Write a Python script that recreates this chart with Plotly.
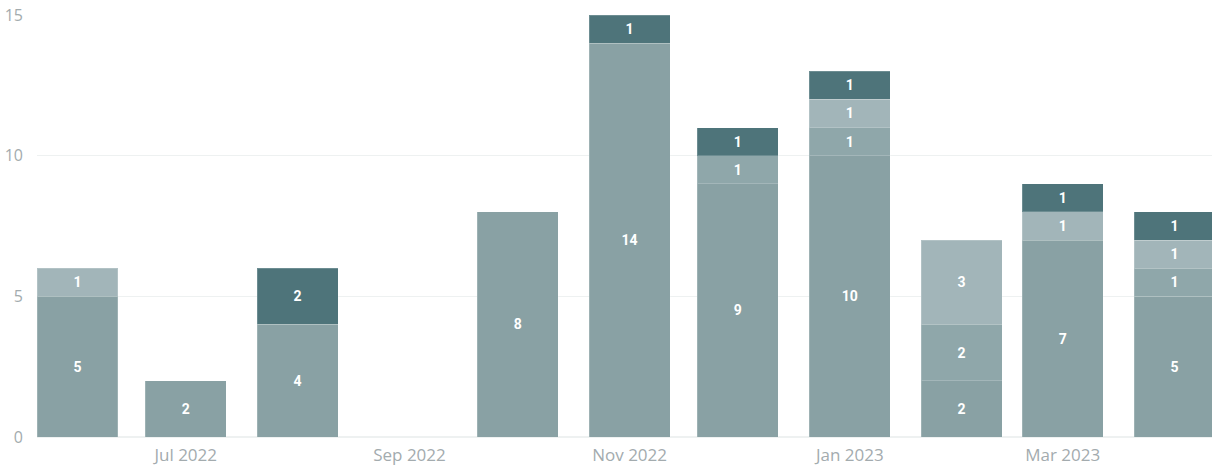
import plotly.graph_objects as go

# Monthly counts, stacked by category
months = ["2022-06-01", "2022-07-01", "2022-08-01", "2022-09-01", "2022-10-01", "2022-11-01",
          "2022-12-01", "2023-01-01", "2023-02-01", "2023-03-01", "2023-04-01"]
base = [5, 2, 4, None, 8, 14, 9, 10, 2, 7, 5]
medium = [None, None, None, None, None, None, 1, 1, 2, None, 1]
light = [1, None, None, None, None, None, None, 1, 3, 1, 1]
dark = [None, None, 2, None, None, 1, 1, 1, None, 1, 1]

tick_dates = ["2022-07-01", "2022-09-01", "2022-11-01", "2023-01-01", "2023-03-01"]
tick_labels = ["Jul 2022", "Sep 2022", "Nov 2022", "Jan 2023", "Mar 2023"]
y_ticks = [0, 5, 10, 15]

series = [
    ("Base", base, "#89A1A4"),
    ("Medium", medium, "#8FA7AA"),
    ("Light", light, "#A2B5B9"),
    ("Dark", dark, "#4E747A"),
]

DAY_MS = 86400000
bar_width = 22.4 * DAY_MS

fig = go.Figure()
for name, vals, color in series:
    fig.add_trace(go.Bar(
        x=months,
        y=vals,
        name=name,
        width=[bar_width] * len(months),
        marker=dict(color=color, line=dict(color="rgba(255,255,255,0.18)", width=1)),
        texttemplate="%{y}",
        textposition="inside",
        insidetextanchor="middle",
        textangle=0,
        textfont=dict(family="Roboto", size=14, color="white", weight="bold"),
        hoverinfo="skip",
    ))

fig.update_layout(
    barmode="stack",
    width=1212,
    height=470,
    margin=dict(l=37, r=0, t=15, b=33),
    paper_bgcolor="white",
    plot_bgcolor="white",
    showlegend=False,
    uniformtext=dict(mode=False),
    xaxis=dict(
        type="date",
        range=["2022-05-20 18:40", "2023-04-11 09:20"],
        tickvals=tick_dates,
        ticktext=tick_labels,
        showgrid=False,
        zeroline=False,
        showline=False,
        ticks="",
        ticklabelstandoff=6,
        tickfont=dict(family="Open Sans", size=17, color="#A3ABAE"),
    ),
    yaxis=dict(
        range=[0, 15],
        tickvals=y_ticks,
        showgrid=True,
        gridcolor="#EEF1F1",
        gridwidth=1,
        zeroline=True,
        zerolinecolor="#EEF1F1",
        ticks="",
        ticklabelstandoff=13,
        tickfont=dict(family="Open Sans", size=16, color="#A3ABAE"),
    ),
)

fig.write_html("out.html")
